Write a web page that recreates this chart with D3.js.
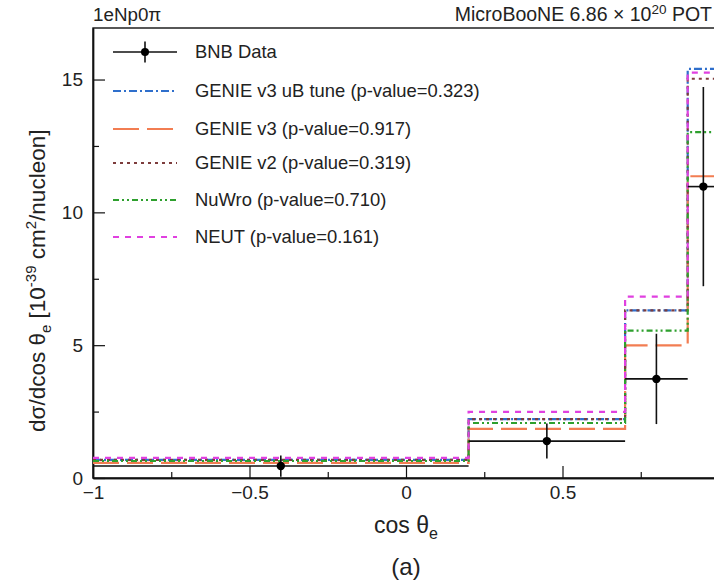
<!DOCTYPE html>
<html>
<head>
<meta charset="utf-8">
<script src="https://cdn.jsdelivr.net/npm/d3@7"></script>
<style>
  html, body { margin: 0; padding: 0; background: #fff; }
  svg { display: block; font-family: "Liberation Sans", Arial, Helvetica, sans-serif; }
</style>
</head>
<body>
<svg id="chart" width="714" height="587"></svg>
<script>
// Bin edges in cos(theta_e) and per-bin cross sections [1e-39 cm^2/nucleon]
const binEdges = [-1.0, 0.2, 0.7, 0.9, 1.0];
const dataValues = [0.45, 1.39, 3.73, 10.97];
const dataErrors = [0.40, 0.66, 1.70, 3.75];

const genieV3uB = [0.68, 2.22, 6.31, 15.40];
const genieV3   = [0.57, 1.85, 4.99, 11.36];
const genieV2   = [0.68, 2.22, 6.31, 15.03];
const nuwro     = [0.64, 2.07, 5.55, 13.02];
const neut      = [0.76, 2.49, 6.83, 15.26];

const xMajorTicks = [-1, -0.5, 0, 0.5, 1];
const xTickLabels = ["−1", "−0.5", "0", "0.5", ""];
const xMinorTicks = [-0.75, -0.25, 0.25, 0.75];
const yMajorTicks = [0, 5, 10, 15];
const yMinorTicks = [2.5, 7.5, 12.5];

const models = [
  { name: "GENIE v3 uB tune (p-value=0.323)", values: genieV3uB, color: "#2f6fcc", dash: "8,3,2,3" },
  { name: "GENIE v3 (p-value=0.917)",         values: genieV3,   color: "#f27d52", dash: "26,8" },
  { name: "GENIE v2 (p-value=0.319)",         values: genieV2,   color: "#7d3c3c", dash: "3,4" },
  { name: "NuWro (p-value=0.710)",            values: nuwro,     color: "#2ea02e", dash: "6,3,2,3,2,3" },
  { name: "NEUT (p-value=0.161)",             values: neut,      color: "#e040e0", dash: "6,6" }
];

const svg = d3.select("#chart");
const frame = { left: 93, right: 719, top: 28, bottom: 478 };

const x = d3.scaleLinear().domain([-1, 1]).range([frame.left, frame.right]);
const y = d3.scaleLinear().domain([0, 16.94]).range([frame.bottom, frame.top]);

// Frame
svg.append("rect")
  .attr("x", frame.left).attr("y", frame.top)
  .attr("width", frame.right - frame.left).attr("height", frame.bottom - frame.top)
  .attr("fill", "none").attr("stroke", "#111").attr("stroke-width", 1.4);

// Axes with inward ticks
const xAxis = svg.append("g").attr("transform", `translate(0,${frame.bottom})`)
  .call(d3.axisBottom(x).tickValues(xMajorTicks).tickSizeInner(-12).tickSizeOuter(0).tickPadding(8)
    .tickFormat((d, i) => xTickLabels[i]));
const xMinor = svg.append("g").attr("transform", `translate(0,${frame.bottom})`)
  .call(d3.axisBottom(x).tickValues(xMinorTicks).tickSizeInner(-6).tickSizeOuter(0).tickFormat(""));
const yAxis = svg.append("g").attr("transform", `translate(${frame.left},0)`)
  .call(d3.axisLeft(y).tickValues(yMajorTicks).tickSizeInner(-12).tickSizeOuter(0).tickPadding(10));
const yMinor = svg.append("g").attr("transform", `translate(${frame.left},0)`)
  .call(d3.axisLeft(y).tickValues(yMinorTicks).tickSizeInner(-6).tickSizeOuter(0).tickFormat(""));

[xAxis, xMinor, yAxis, yMinor].forEach(g => {
  g.select(".domain").attr("stroke", "#111").attr("stroke-width", 1.4);
  g.selectAll(".tick line").attr("stroke", "#111").attr("stroke-width", 1.2);
  g.selectAll(".tick text").attr("fill", "#222").style("font-size", "19px")
    .style("font-family", "'Liberation Sans', Arial, sans-serif");
});

// Model histograms as step lines
const stepLine = d3.line().x(d => x(d[0])).y(d => y(d[1])).curve(d3.curveStepAfter);
function stepPoints(vals) {
  const pts = vals.map((v, i) => [binEdges[i], v]);
  pts.push([binEdges[binEdges.length - 1], vals[vals.length - 1]]);
  return pts;
}
const histG = svg.append("g");
models.forEach(m => {
  histG.append("path")
    .attr("d", stepLine(stepPoints(m.values)))
    .attr("fill", "none")
    .attr("stroke", m.color)
    .attr("stroke-width", 2.2)
    .attr("stroke-dasharray", m.dash);
});

// Data points with errors
const dataG = svg.append("g");
dataValues.forEach((v, i) => {
  const x0 = binEdges[i], x1 = binEdges[i + 1], xc = (x0 + x1) / 2;
  dataG.append("line")
    .attr("x1", x(x0)).attr("x2", x(x1)).attr("y1", y(v)).attr("y2", y(v))
    .attr("stroke", "#111").attr("stroke-width", 1.6);
  dataG.append("line")
    .attr("x1", x(xc)).attr("x2", x(xc))
    .attr("y1", y(Math.max(0, v - dataErrors[i]))).attr("y2", y(v + dataErrors[i]))
    .attr("stroke", "#111").attr("stroke-width", 1.6);
  dataG.append("circle").attr("cx", x(xc)).attr("cy", y(v)).attr("r", 4.2).attr("fill", "#000");
});

// Legend
const legend = svg.append("g");
const legX0 = 113, legX1 = 177, legTextX = 195;
const rowsY = [52, 91, 129, 163, 200, 237];
const legFont = "18.4px";
const lg0 = legend.append("g");
lg0.append("line").attr("x1", legX0).attr("x2", legX1).attr("y1", rowsY[0]).attr("y2", rowsY[0])
  .attr("stroke", "#111").attr("stroke-width", 1.6);
lg0.append("line").attr("x1", (legX0 + legX1) / 2).attr("x2", (legX0 + legX1) / 2)
  .attr("y1", rowsY[0] - 10.5).attr("y2", rowsY[0] + 10.5).attr("stroke", "#111").attr("stroke-width", 1.6);
lg0.append("circle").attr("cx", (legX0 + legX1) / 2).attr("cy", rowsY[0]).attr("r", 4).attr("fill", "#000");
legend.append("text").attr("x", legTextX).attr("y", rowsY[0]).attr("dy", "0.35em")
  .style("font-size", legFont).attr("fill", "#222").text("BNB Data");
models.forEach((m, i) => {
  const yy = rowsY[i + 1];
  legend.append("line").attr("x1", legX0).attr("x2", legX1).attr("y1", yy).attr("y2", yy)
    .attr("stroke", m.color).attr("stroke-width", 2.2).attr("stroke-dasharray", m.dash);
  legend.append("text").attr("x", legTextX).attr("y", yy).attr("dy", "0.35em")
    .style("font-size", legFont).attr("fill", "#222").text(m.name);
});

// Top labels
svg.append("text").attr("x", 93).attr("y", 21).style("font-size", "18.8px").attr("fill", "#222")
  .text("1eNp0π");
const pot = svg.append("text").attr("x", 712).attr("y", 21).attr("text-anchor", "end")
  .style("font-size", "19.5px").attr("fill", "#222");
pot.append("tspan").text("MicroBooNE 6.86 × 10");
pot.append("tspan").attr("dy", -7).style("font-size", "13.5px").text("20");
pot.append("tspan").attr("dy", 7).text(" POT");

// Axis titles
const xt = svg.append("text").attr("x", 406).attr("y", 533).attr("text-anchor", "middle")
  .style("font-size", "23px").attr("fill", "#222");
xt.append("tspan").text("cos θ");
xt.append("tspan").attr("dy", 6).style("font-size", "16px").text("e");

const yt = svg.append("text").attr("transform", "translate(45,432) rotate(-90)")
  .attr("text-anchor", "start").style("font-size", "22.5px").attr("fill", "#222");
yt.append("tspan").text("dσ/dcos θ");
yt.append("tspan").attr("dy", 6).style("font-size", "15px").text("e");
yt.append("tspan").attr("dy", -6).text(" [10");
yt.append("tspan").attr("dy", -9).style("font-size", "15px").text("-39");
yt.append("tspan").attr("dy", 9).text(" cm");
yt.append("tspan").attr("dy", -9).style("font-size", "15px").text("2");
yt.append("tspan").attr("dy", 9).text("/nucleon]");

svg.append("text").attr("x", 406).attr("y", 575).attr("text-anchor", "middle")
  .style("font-size", "24px").attr("fill", "#222").text("(a)");
</script>
</body>
</html>
